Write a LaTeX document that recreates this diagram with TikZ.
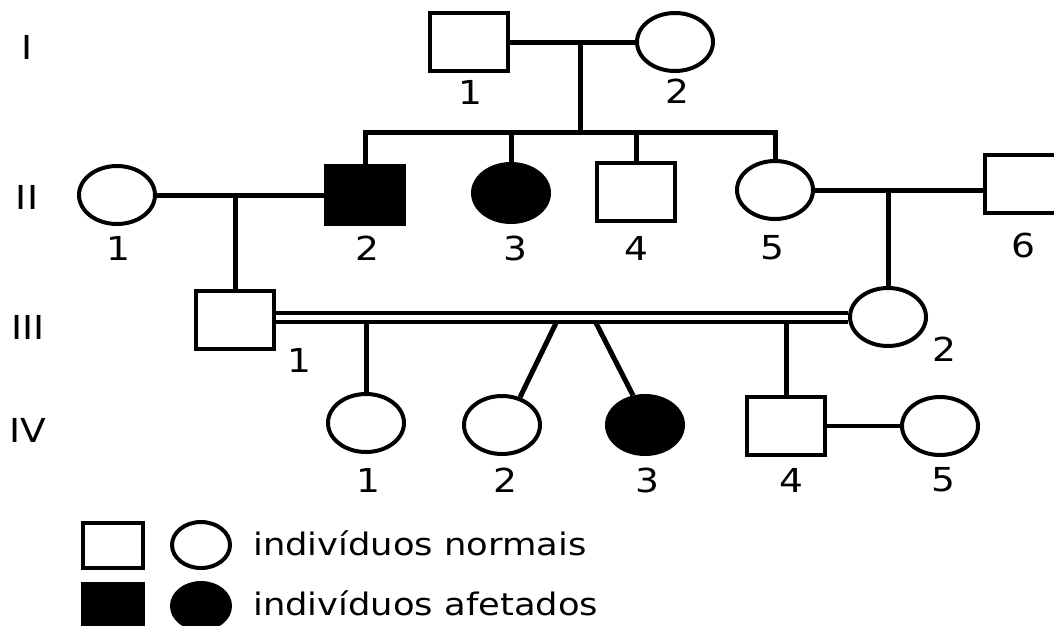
\documentclass[tikz,border=0pt]{standalone}
\usepackage{fontspec}
\setmainfont{DejaVu Sans}[FakeStretch=1.14]
\usepackage{tikz}
\usetikzlibrary{shapes.geometric, calc}

\tikzset{
  male/.style={draw, line width=4pt, minimum width=78pt, minimum height=58pt, inner sep=0pt},
  female/.style={draw, ellipse, line width=4pt, minimum width=76pt, minimum height=58pt, inner sep=0pt},
  affected/.style={fill=black},
  tag/.style={font=\fontsize{33}{33}\selectfont, inner sep=0pt},
  key/.style={font=\fontsize{31}{31}\selectfont, inner sep=0pt, anchor=base west},
  link/.style={line width=5pt},
}

\begin{document}
\begin{tikzpicture}[x=1pt, y=-1pt]
  \useasboundingbox (0,0) rectangle (1054,625);

  % generations
  \node[tag] (gI)   at (27,47)  {I};
  \node[tag] (gII)  at (27,197) {II};
  \node[tag] (gIII) at (28,327) {III};
  \node[tag] (gIV)  at (28,430) {IV};

  % I
  \node[male]   (I1) at (469,42) {};
  \node[female] (I2) at (675,42) {};
  \node[tag] (tI1) at (470,92) {1};
  \node[tag] (tI2) at (677,91) {2};
  \coordinate (mI)  at (580,42);
  \coordinate (sib) at (580,132);
  \draw[link] (I1) -- (I2);
  \draw[link] (mI) -- (sib);

  % II
  \node[female]           (II1) at (117,195) {};
  \node[male, affected]   (II2) at (365,195) {};
  \node[female, affected] (II3) at (511,193) {};
  \node[male]             (II4) at (636,192) {};
  \node[female]           (II5) at (775,190) {};
  \node[male]             (II6) at (1024,184) {};
  \node[tag] (tII1) at (118,248) {1};
  \node[tag] (tII2) at (367,248) {2};
  \node[tag] (tII3) at (515,248) {3};
  \node[tag] (tII4) at (636,248) {4};
  \node[tag] (tII5) at (772,248) {5};
  \node[tag] (tII6) at (1023,245) {6};
  \draw[link] (II2.north) -- (II2.north |- sib) -- (II5.north |- sib) -- (II5.north);
  \foreach \n in {II3, II4}
    \draw[link] (\n.north) -- (\n.north |- sib);
  \coordinate (mII)  at (235,195);
  \coordinate (mII5) at (888,190);
  \draw[link] (II1) -- (II2);
  \draw[link] (II5.east) -- (II5.east -| II6.west);

  % III
  \node[male]   (III1) at (235,320) {};
  \node[female] (III2) at (888,317) {};
  \node[tag] (tIII1) at (299,360) {1};
  \node[tag] (tIII2) at (944,349) {2};
  \draw[link] (mII) -- (III1.north);
  \draw[link] (mII5) -- (III2.north);
  % consanguineous union
  \draw[line width=4.5pt] ([yshift=7pt]III1.east) -- ([yshift=4pt]III2.west);
  \draw[line width=4.5pt] ([yshift=-2pt]III1.east) -- ([yshift=-5pt]III2.west);
  \coordinate (dbl) at ([yshift=-2pt]III1.east);

  % IV
  \node[female]           (IV1) at (366,423) {};
  \node[female]           (IV2) at (502,425) {};
  \node[female, affected] (IV3) at (645,425) {};
  \node[male]             (IV4) at (786,426) {};
  \node[female]           (IV5) at (940,426) {};
  \node[tag] (tIV1) at (368,480) {1};
  \node[tag] (tIV2) at (505,480) {2};
  \node[tag] (tIV3) at (647,480) {3};
  \node[tag] (tIV4) at (791,480) {4};
  \node[tag] (tIV5) at (943,480) {5};
  \foreach \n in {IV1, IV4}
    \draw[link] (\n.north) -- (\n.north |- dbl);
  \coordinate (twA) at (557,321);
  \coordinate (twB) at (595,321);
  \draw[link] (twA) -- (IV2.57);
  \draw[link] (twB) -- (IV3.112);
  \draw[line width=4pt] (IV4) -- (IV5);

  % legend
  \node[male, minimum width=60pt, minimum height=45pt]             (kM)  at (113,545) {};
  \node[female, minimum width=58pt, minimum height=46pt]           (kF)  at (201,545) {};
  \node[male, affected, minimum width=60pt, minimum height=45pt]   (kMa) at (113,606) {};
  \node[female, affected, minimum width=58pt, minimum height=46pt] (kFa) at (201,606) {};
  \node[key] (kN) at (253,555) {indivíduos normais};
  \node[key] (kA) at (253,615) {indivíduos afetados};
\end{tikzpicture}
\end{document}
